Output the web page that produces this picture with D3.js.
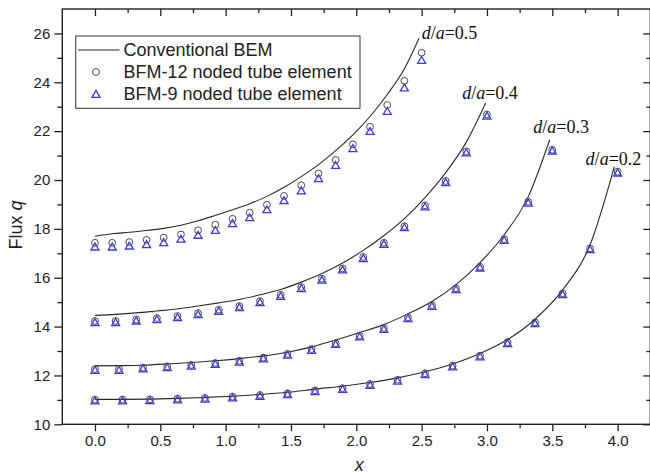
<!DOCTYPE html>
<html>
<head>
<meta charset="utf-8">
<script src="https://cdn.jsdelivr.net/npm/d3@7"></script>
<style>
  html, body { margin: 0; padding: 0; background: #fff; }
  svg { display: block; }
  .tick text { font-family: "Liberation Sans", Arial, sans-serif; font-size: 15px; fill: #222; }
</style>
</head>
<body>
<svg id="chart" width="650" height="476"></svg>
<script>
// Flux q along the tube axis x for four spacing ratios d/a.
const ratios = ["0.5", "0.4", "0.3", "0.2"];

// Conventional BEM reference curves
const bemX05 = [0, 0.132, 0.263, 0.395, 0.526, 0.658, 0.789, 0.921, 1.053, 1.184, 1.316, 1.447, 1.579, 1.711, 1.842, 1.974, 2.105, 2.237, 2.368, 2.48];
const bemQ05 = [17.70, 17.80, 17.86, 17.93, 18.02, 18.15, 18.33, 18.55, 18.78, 19.03, 19.33, 19.70, 20.14, 20.63, 21.20, 21.85, 22.60, 23.50, 24.55, 25.80];
const bemX04 = [0, 0.158, 0.316, 0.474, 0.632, 0.789, 0.947, 1.105, 1.263, 1.421, 1.579, 1.737, 1.895, 2.053, 2.21, 2.368, 2.526, 2.684, 2.842, 2.99];
const bemQ04 = [14.46, 14.50, 14.56, 14.64, 14.72, 14.84, 14.97, 15.11, 15.30, 15.52, 15.82, 16.17, 16.60, 17.12, 17.72, 18.42, 19.28, 20.30, 21.55, 23.15];
const bemX03 = [0, 0.184, 0.368, 0.553, 0.737, 0.921, 1.105, 1.289, 1.474, 1.658, 1.842, 2.026, 2.21, 2.395, 2.579, 2.763, 2.947, 3.132, 3.316, 3.48];
const bemQ03 = [12.39, 12.40, 12.42, 12.47, 12.53, 12.60, 12.69, 12.80, 12.95, 13.17, 13.45, 13.76, 14.08, 14.52, 15.03, 15.72, 16.62, 17.76, 19.32, 21.65];
const bemX02 = [0, 0.211, 0.421, 0.632, 0.842, 1.053, 1.263, 1.474, 1.684, 1.895, 2.105, 2.316, 2.526, 2.737, 2.947, 3.158, 3.368, 3.579, 3.789, 3.975];
const bemQ02 = [11.02, 11.02, 11.03, 11.06, 11.10, 11.15, 11.22, 11.31, 11.44, 11.56, 11.71, 11.90, 12.15, 12.47, 12.90, 13.47, 14.30, 15.50, 17.35, 20.55];

// Node positions of the tube elements
const nodeX05 = [0, 0.132, 0.263, 0.395, 0.526, 0.658, 0.789, 0.921, 1.053, 1.184, 1.316, 1.447, 1.579, 1.711, 1.842, 1.974, 2.105, 2.237, 2.368, 2.5];
const nodeX04 = [0, 0.158, 0.316, 0.474, 0.632, 0.789, 0.947, 1.105, 1.263, 1.421, 1.579, 1.737, 1.895, 2.053, 2.211, 2.368, 2.526, 2.684, 2.842, 3.0];
const nodeX03 = [0, 0.184, 0.368, 0.553, 0.737, 0.921, 1.105, 1.289, 1.474, 1.658, 1.842, 2.026, 2.211, 2.395, 2.579, 2.763, 2.947, 3.132, 3.316, 3.5];
const nodeX02 = [0, 0.211, 0.421, 0.632, 0.842, 1.053, 1.263, 1.474, 1.684, 1.895, 2.105, 2.316, 2.526, 2.737, 2.947, 3.158, 3.368, 3.579, 3.789, 4.0];

// BFM, 12-noded tube element
const bfm12Q05 = [17.43, 17.43, 17.46, 17.55, 17.64, 17.77, 17.94, 18.17, 18.41, 18.66, 18.99, 19.35, 19.78, 20.27, 20.82, 21.46, 22.18, 23.07, 24.06, 25.21];
const bfm12Q04 = [14.23, 14.23, 14.29, 14.35, 14.43, 14.55, 14.69, 14.84, 15.04, 15.30, 15.62, 15.96, 16.38, 16.85, 17.43, 18.11, 18.96, 19.96, 21.17, 22.68];
const bfm12Q03 = [12.26, 12.26, 12.32, 12.37, 12.43, 12.51, 12.60, 12.73, 12.88, 13.08, 13.32, 13.63, 13.94, 14.38, 14.88, 15.57, 16.45, 17.58, 19.11, 21.24];
const bfm12Q02 = [11.01, 11.01, 11.02, 11.05, 11.08, 11.13, 11.20, 11.27, 11.39, 11.48, 11.65, 11.82, 12.09, 12.40, 12.81, 13.36, 14.17, 15.36, 17.20, 20.34];

// BFM, 9-noded tube element
const bfm9Q05 = [17.27, 17.27, 17.31, 17.37, 17.45, 17.59, 17.75, 17.95, 18.23, 18.47, 18.80, 19.17, 19.57, 20.07, 20.61, 21.30, 22.00, 22.82, 23.78, 24.91];
const bfm9Q04 = [14.18, 14.18, 14.24, 14.30, 14.38, 14.50, 14.64, 14.79, 14.99, 15.25, 15.57, 15.91, 16.33, 16.80, 17.38, 18.06, 18.91, 19.91, 21.12, 22.63];
const bfm9Q03 = [12.22, 12.22, 12.28, 12.33, 12.39, 12.47, 12.56, 12.69, 12.84, 13.04, 13.28, 13.59, 13.90, 14.34, 14.84, 15.53, 16.41, 17.54, 19.07, 21.20];
const bfm9Q02 = [10.97, 10.97, 10.98, 11.01, 11.04, 11.09, 11.16, 11.23, 11.35, 11.44, 11.61, 11.78, 12.05, 12.36, 12.77, 13.32, 14.13, 15.32, 17.16, 20.30];

// Curve captions "d/a=..." anchored in data units
const captionX = [2.50, 2.81, 3.355, 3.755];
const captionY = [25.76, 23.30, 21.94, 20.63];

// Axes
const xTicks = [0, 0.5, 1.0, 1.5, 2.0, 2.5, 3.0, 3.5, 4.0];
const xMinor = [-0.25, 0.25, 0.75, 1.25, 1.75, 2.25, 2.75, 3.25, 3.75, 4.25];
const yTicks = [10, 12, 14, 16, 18, 20, 22, 24, 26];
const yMinor = [11, 13, 15, 17, 19, 21, 23, 25, 27];

const legendLabels = ["Conventional BEM", "BFM-12 noded tube element", "BFM-9 noded tube element"];

const cases = [
  { bx: bemX05, bq: bemQ05, nx: nodeX05, q12: bfm12Q05, q9: bfm9Q05 },
  { bx: bemX04, bq: bemQ04, nx: nodeX04, q12: bfm12Q04, q9: bfm9Q04 },
  { bx: bemX03, bq: bemQ03, nx: nodeX03, q12: bfm12Q03, q9: bfm9Q03 },
  { bx: bemX02, bq: bemQ02, nx: nodeX02, q12: bfm12Q02, q9: bfm9Q02 }
];

const svg = d3.select("#chart");
const L = 62.3, R = 650.3, T = 9.0, B = 424.3;

const x = d3.scaleLinear().domain([-0.25, 4.25]).range([L, R]);
const y = d3.scaleLinear().domain([10, 27]).range([B, T]);

const sans = "'Liberation Sans', Arial, sans-serif";
const serif = "'Liberation Serif', 'Times New Roman', serif";
const lineColor = "#2a2a2a";
const circleColor = "#4a4a4a";
const triColor = "#3b3bd6";

// Triangle marker path centred on its bounding box
const triPath = "M0,-3.6L4,3.3L-4,3.3Z";

const plot = svg.append("g");

const lineGen = d3.line()
  .x(d => x(d[0]))
  .y(d => y(d[1]))
  .curve(d3.curveMonotoneX);

cases.forEach(c => {
  const pts = c.bx.map((v, i) => [v, c.bq[i]]);
  plot.append("path")
    .attr("d", lineGen(pts))
    .attr("fill", "none")
    .attr("stroke", lineColor)
    .attr("stroke-width", 1.1);
});

cases.forEach(c => {
  plot.append("g").selectAll("circle")
    .data(c.nx.map((v, i) => [v, c.q12[i]]))
    .join("circle")
    .attr("cx", d => x(d[0]))
    .attr("cy", d => y(d[1]))
    .attr("r", 3.4)
    .attr("fill", "none")
    .attr("stroke", circleColor)
    .attr("stroke-width", 1);
});

cases.forEach(c => {
  plot.append("g").selectAll("path")
    .data(c.nx.map((v, i) => [v, c.q9[i]]))
    .join("path")
    .attr("d", triPath)
    .attr("transform", d => `translate(${x(d[0])},${y(d[1])})`)
    .attr("fill", "none")
    .attr("stroke", triColor)
    .attr("stroke-width", 1.3)
    .attr("stroke-linejoin", "miter");
});

// Curve captions
ratios.forEach((r, i) => {
  const t = svg.append("text")
    .attr("x", x(captionX[i]))
    .attr("y", y(captionY[i]))
    .attr("font-family", serif)
    .attr("font-size", 18)
    .attr("fill", "#111");
  t.append("tspan").attr("font-style", "italic").text("d");
  t.append("tspan").text("/");
  t.append("tspan").attr("font-style", "italic").text("a");
  t.append("tspan").text("=" + r);
});

// Axes: bottom/left with outward ticks and labels, top/right mirrored inward
function styleAxis(g) {
  g.select(".domain").remove();
  g.selectAll(".tick line").attr("stroke", "#222").attr("stroke-width", 1.3);
}

svg.append("g").attr("transform", `translate(0,${B})`)
  .call(d3.axisBottom(x).tickValues(xTicks).tickSize(7).tickPadding(4).tickFormat(d3.format(".1f")))
  .call(styleAxis);
svg.append("g").attr("transform", `translate(0,${B})`)
  .call(d3.axisBottom(x).tickValues(xMinor.filter(v => v > -0.25 && v < 4.25)).tickSize(4).tickFormat(""))
  .call(styleAxis);

svg.append("g").attr("transform", `translate(${L},0)`)
  .call(d3.axisLeft(y).tickValues(yTicks).tickSize(8).tickPadding(4))
  .call(styleAxis);
svg.append("g").attr("transform", `translate(${L},0)`)
  .call(d3.axisLeft(y).tickValues(yMinor.filter(v => v < 27)).tickSize(5).tickFormat(""))
  .call(styleAxis);

svg.append("g").attr("transform", `translate(0,${T})`)
  .call(d3.axisTop(x).tickValues(xTicks).tickSize(-7).tickFormat(""))
  .call(styleAxis);
svg.append("g").attr("transform", `translate(0,${T})`)
  .call(d3.axisTop(x).tickValues(xMinor.filter(v => v > -0.25 && v < 4.25)).tickSize(-4).tickFormat(""))
  .call(styleAxis);

svg.append("g").attr("transform", `translate(${R},0)`)
  .call(d3.axisRight(y).tickValues(yTicks).tickSize(-7).tickFormat(""))
  .call(styleAxis);
svg.append("g").attr("transform", `translate(${R},0)`)
  .call(d3.axisRight(y).tickValues(yMinor.filter(v => v < 27)).tickSize(-4).tickFormat(""))
  .call(styleAxis);

svg.selectAll(".tick text").attr("font-family", sans).attr("font-size", 15).attr("fill", "#222");

// Frame
svg.append("rect")
  .attr("x", L).attr("y", T)
  .attr("width", R - L).attr("height", B - T)
  .attr("fill", "none")
  .attr("stroke", "#222")
  .attr("stroke-width", 1.4);

// Axis titles
svg.append("text")
  .attr("x", (L + R) / 2 + 3)
  .attr("y", 471)
  .attr("text-anchor", "middle")
  .attr("font-family", sans)
  .attr("font-size", 18)
  .attr("font-style", "italic")
  .attr("fill", "#222")
  .text("x");

const yt = svg.append("text")
  .attr("transform", "translate(22,225) rotate(-90)")
  .attr("text-anchor", "middle")
  .attr("font-family", sans)
  .attr("font-size", 18)
  .attr("fill", "#222");
yt.append("tspan").text("Flux ");
yt.append("tspan").attr("font-style", "italic").text("q");

// Legend
const lg = svg.append("g");
lg.append("rect")
  .attr("x", 75.7).attr("y", 36)
  .attr("width", 284.3).attr("height", 72.3)
  .attr("fill", "#fff")
  .attr("stroke", "#333")
  .attr("stroke-width", 1);
lg.append("line")
  .attr("x1", 78).attr("x2", 119.5)
  .attr("y1", 50).attr("y2", 50)
  .attr("stroke", lineColor).attr("stroke-width", 1.1);
lg.append("circle")
  .attr("cx", 96).attr("cy", 72)
  .attr("r", 3.4)
  .attr("fill", "none").attr("stroke", circleColor).attr("stroke-width", 1);
lg.append("path")
  .attr("d", triPath)
  .attr("transform", "translate(96,94)")
  .attr("fill", "none").attr("stroke", triColor).attr("stroke-width", 1.3);
legendLabels.forEach((s, i) => {
  lg.append("text")
    .attr("x", 123.5)
    .attr("y", 56 + i * 21.8)
    .attr("font-family", sans)
    .attr("font-size", 18)
    .attr("fill", "#222")
    .text(s);
});
</script>
</body>
</html>
